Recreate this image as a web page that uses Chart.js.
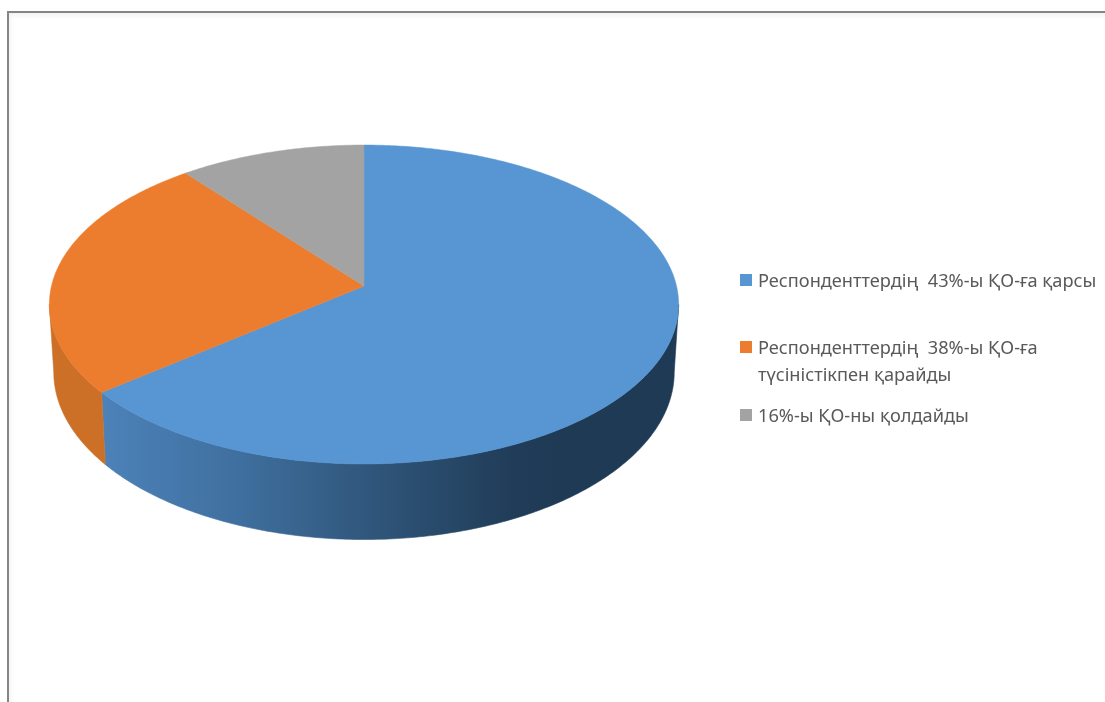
<!DOCTYPE html>
<html>
<head>
<meta charset="utf-8">
<title>ҚО</title>
<script src="https://cdn.jsdelivr.net/npm/chart.js@4"></script>
<style>
    html, body { margin: 0; padding: 0; background: #fff; overflow: hidden; }
    #frame {
        position: absolute; left: 7px; top: 11px; width: 1098px; height: 691px;
        border-top: 2px solid #858585; border-left: 2px solid #858585;
        box-shadow: inset 2px 3px 4px rgba(0, 0, 0, 0.05);
    }
    #chart { position: absolute; left: 0; top: 0; }
</style>
</head>
<body>
<div id="frame"></div>
<canvas id="chart" width="1105" height="702"></canvas>
<script>
// shares (the legend text says otherwise, the slices are what is drawn)
const categories = [
    "Респонденттердің  43%-ы ҚО-ға қарсы",
    ["Респонденттердің  38%-ы ҚО-ға", "түсіністікпен қарайды"],
    "16%-ы ҚО-ны қолдайды"
];
const shares = [64.2, 25.1, 10.7];
const topColors = ["#5795d3", "#ec7c2e", "#a3a3a3"];
const legendBaselines = [287, 354, 422];

// tilted disc: horizontal radius, vertical radius, perspective and wall height
const RX = 312.5;
const RY = 157.3;
const PERSP = 0.116;
const WALL = 66.8;
const WALL_SHRINK = 0.986;

function project(arc, a, low) {
    const s = Math.sin(a);
    const w = 1 - PERSP * s;
    const x = RX * Math.cos(a) / w;
    const y = RY * s / w;
    if (!low) return [arc.x + x, arc.y + y];
    return [arc.x + x * WALL_SHRINK, arc.y + y + WALL / w];
}

function traceEdge(ctx, arc, from, to, low) {
    const steps = Math.max(2, Math.ceil(Math.abs(to - from) * 90));
    for (let i = 0; i <= steps; i++) {
        const p = project(arc, from + (to - from) * i / steps, low);
        ctx.lineTo(p[0], p[1]);
    }
}

function wallFill(ctx, index) {
    const g = ctx.createLinearGradient(104, 0, 560, 0);
    if (index === 0) {
        g.addColorStop(0, "#4c82b9");
        g.addColorStop(0.3, "#3f6f9e");
        g.addColorStop(0.6, "#2f5579");
        g.addColorStop(0.9, "#203c58");
        g.addColorStop(1, "#1f3a55");
    } else {
        g.addColorStop(0, "#cc7028");
        g.addColorStop(1, "#cc7028");
    }
    return g;
}

const disc3d = {
    id: "disc3d",
    beforeDatasetsDraw(chart) {
        const ctx = chart.ctx;
        const arcs = chart.getDatasetMeta(0).data;
        const front0 = Math.asin(PERSP);
        const front1 = Math.PI - front0;
        ctx.save();
        // side wall, front half only; orange goes last so it closes the seam
        arcs.forEach((arc, i) => {
            const from = Math.max(arc.startAngle, front0);
            const to = Math.min(arc.endAngle, front1);
            if (to <= from) return;
            ctx.beginPath();
            traceEdge(ctx, arc, from, to, false);
            traceEdge(ctx, arc, to, from, true);
            ctx.closePath();
            ctx.fillStyle = wallFill(ctx, i);
            ctx.strokeStyle = ctx.fillStyle;
            ctx.lineWidth = 0.6;
            ctx.fill();
            ctx.stroke();
        });
        // top face
        arcs.forEach((arc, i) => {
            ctx.beginPath();
            ctx.moveTo(arc.x, arc.y);
            traceEdge(ctx, arc, arc.startAngle, arc.endAngle, false);
            ctx.closePath();
            ctx.fillStyle = topColors[i];
            ctx.strokeStyle = topColors[i];
            ctx.lineWidth = 0.5;
            ctx.fill();
            ctx.stroke();
        });
        ctx.restore();
        return false;
    },
    afterDraw(chart) {
        const ctx = chart.ctx;
        ctx.save();
        ctx.font = '18.2px "Noto Sans"';
        ctx.textBaseline = "alphabetic";
        categories.forEach((label, i) => {
            const y = legendBaselines[i];
            ctx.fillStyle = topColors[i];
            ctx.fillRect(740, y - 13, 12, 12);
            ctx.fillStyle = "#595959";
            [].concat(label).forEach((line, n) => {
                ctx.fillText(line, 758, y + n * 27);
            });
        });
        ctx.restore();
    }
};

new Chart(document.getElementById("chart").getContext("2d"), {
    type: "pie",
    data: {
        labels: categories,
        datasets: [{ data: shares, backgroundColor: topColors, borderWidth: 0 }]
    },
    options: {
        responsive: false,
        animation: false,
        layout: { padding: { left: 51, right: 428, top: 0, bottom: 130 } },
        plugins: {
            legend: { display: false },
            tooltip: { enabled: false }
        }
    },
    plugins: [disc3d]
});
</script>
</body>
</html>
